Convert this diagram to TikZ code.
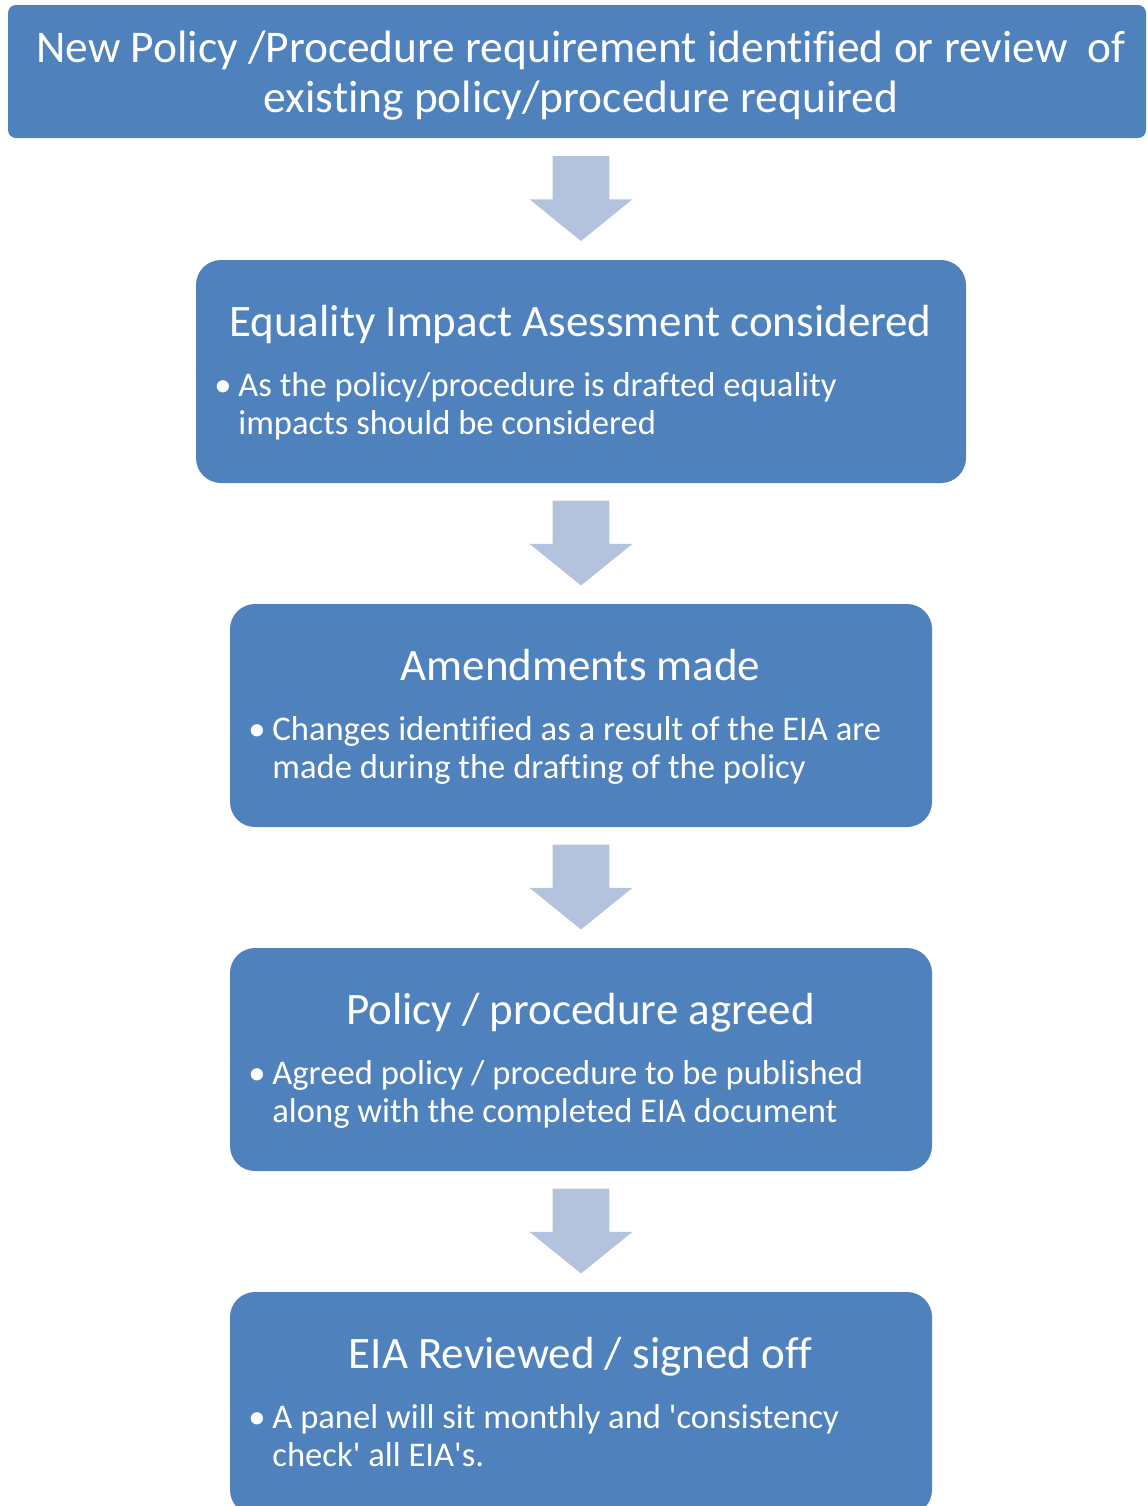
\documentclass[tikz,border=0pt]{standalone}
\usepackage{fontspec}
\setmainfont[Ligatures=CommonOff]{Carlito}
\usetikzlibrary{shapes.arrows}

\definecolor{boxblue}{HTML}{4F81BD}
\definecolor{arrowblue}{HTML}{B3C3DE}

\tikzset{
  stepbox/.style={fill=boxblue, rounded corners=12.5pt, inner sep=0pt, minimum width=351pt, minimum height=111.5pt},
  heading/.style={text=white, font=\fontsize{22.5}{27}\selectfont, anchor=base, inner sep=0pt},
  bullet/.style={text=white, font=\fontsize{17.3}{19}\selectfont, anchor=base west, inner sep=0pt},
  bullettext/.style={bullet, align=left},
  downarrow/.style={yshift=6pt, single arrow, fill=arrowblue, rotate=-90,
    inner xsep=0pt, inner ysep=14pt, minimum height=42.5pt,
    single arrow head extend=11.5pt, single arrow tip angle=102}
}

\begin{document}
\begin{tikzpicture}[x=0.5pt, y=0.5pt]
\clip (0,0) rectangle (1147,-1506);

% top box
\node[fill=boxblue, rounded corners=4pt, minimum width=569pt, minimum height=66.5pt] (req) at (577,-71.5) {};
\node[text=white, font=\fontsize{22.7}{25}\selectfont, align=center, anchor=base, inner sep=0pt] (req-text) at (581,-112)
  {New Policy /Procedure requirement identified or review \ of\\existing policy/procedure required};

% steps
\node[stepbox, minimum width=385pt] (eia) at (581,-371.5) {};
\node[heading] (eia-title) at (580.5,-336) {Equality Impact Asessment considered};
\node[bullet] (eia-dot) at (214,-396) {•};
\node[bullettext] (eia-text) at (238,-434) {As the policy/procedure is drafted equality\\impacts should be considered};

\node[stepbox] (amend) at (581,-715.5) {};
\node[heading] (amend-title) at (580.5,-680) {Amendments made};
\node[bullet] (amend-dot) at (248,-740) {•};
\node[bullettext] (amend-text) at (272,-778) {Changes identified as a result of the EIA are\\made during the drafting of the policy};

\node[stepbox] (agreed) at (581,-1059.5) {};
\node[heading] (agreed-title) at (580.5,-1024) {Policy / procedure agreed};
\node[bullet] (agreed-dot) at (248,-1084) {•};
\node[bullettext] (agreed-text) at (272,-1122) {Agreed policy / procedure to be published\\along with the completed EIA document};

\node[stepbox] (signoff) at (581,-1403.5) {};
\node[heading] (signoff-title) at (580.5,-1368) {EIA Reviewed / signed off};
\node[bullet] (signoff-dot) at (248,-1428) {•};
\node[bullettext] (signoff-text) at (272,-1466) {A panel will sit monthly and \textquotesingle consistency\\check\textquotesingle\ all EIA\textquotesingle s.};

% arrows between the steps
\path (req.south -| eia.north) -- (eia.north) node[midway, downarrow] (arr1) {};
\path (eia.south) -- (amend.north) node[midway, downarrow] (arr2) {};
\path (amend.south) -- (agreed.north) node[midway, downarrow] (arr3) {};
\path (agreed.south) -- (signoff.north) node[midway, downarrow] (arr4) {};
\end{tikzpicture}
\end{document}
